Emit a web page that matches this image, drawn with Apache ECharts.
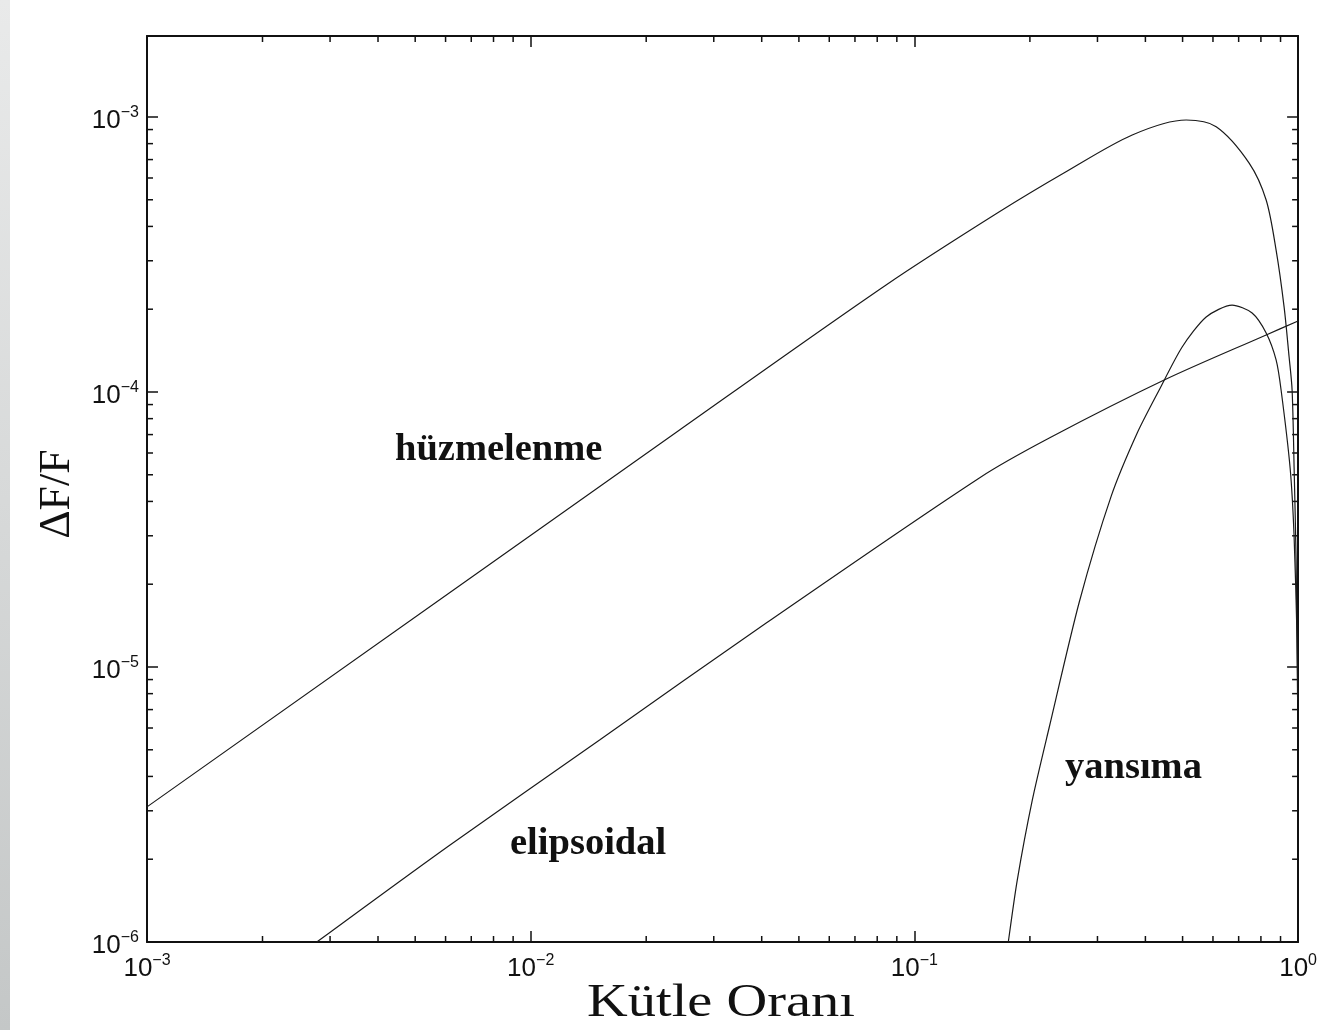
<!DOCTYPE html>
<html>
<head>
    <meta charset="utf-8">
    <title>Kütle Oranı - ΔF/F</title>
    <script type="text/javascript" src="https://cdn.jsdelivr.net/npm/echarts@6/dist/echarts.min.js"></script>
    <style>
        html, body { margin: 0; padding: 0; background: #fff; }
    </style>
</head>
<body>
<div id="main" style="width:1320px;height:1030px;"></div>

<script type="text/javascript">

    // eksen sinirlari ve ana tikler
    var xTicks = [1e-3, 1e-2, 1e-1, 1];
    var yTicks = [1e-6, 1e-5, 1e-4, 1e-3];
    var Y_MAX = 1.97e-3;
    var minorMult = [2, 3, 4, 5, 6, 7, 8, 9];

    // hüzmelenme
    var beamQ = [0.001, 0.02443, 0.08438, 0.1665, 0.2484, 0.3696, 0.5109, 0.6117, 0.7455, 0.8256, 0.8764, 0.9194, 0.9475, 0.9647, 0.9763, 0.9881, 0.9970];
    var beamV = [3.10e-6, 7.27e-5, 2.449e-4, 4.52e-4, 6.32e-4, 8.60e-4, 9.75e-4, 9.22e-4, 6.80e-4, 4.99e-4, 3.28e-4, 2.04e-4, 1.34e-4, 1.017e-4, 5.34e-5, 2.45e-5, 7.6e-6];

    // elipsoidal
    var ellQ = [0.00277, 0.00615, 0.01512, 0.0411, 0.1477, 0.2247, 0.4477, 0.8256, 1.0];
    var ellV = [1.0e-6, 2.25e-6, 5.43e-6, 1.445e-5, 4.87e-5, 6.80e-5, 1.105e-4, 1.612e-4, 1.812e-4];

    // yansıma
    var refQ = [0.1757, 0.1854, 0.2029, 0.2247, 0.2690, 0.3258, 0.3808, 0.4345, 0.4987, 0.5760, 0.6730, 0.7589, 0.8256, 0.8764, 0.9030, 0.9533, 0.9763, 0.9940, 0.9982];
    var refV = [1.0e-6, 1.68e-6, 3.28e-6, 6.05e-6, 1.723e-5, 4.18e-5, 7.09e-5, 1.017e-4, 1.458e-4, 1.874e-4, 2.07e-4, 1.938e-4, 1.639e-4, 1.308e-4, 1.017e-4, 5.29e-5, 2.99e-5, 1.254e-5, 7.6e-6];

    function pairs(a, b) {
        var out = [];
        for (var i = 0; i < a.length; i++) out.push([a[i], b[i]]);
        return out;
    }

    // ara tikler (2..9 x 10^n)
    var xMinor = [], yMinor = [];
    for (var i = 0; i < xTicks.length - 1; i++) {
        for (var k = 0; k < minorMult.length; k++) xMinor.push([xTicks[i] * minorMult[k], 1e-5]);
    }
    for (var i = 0; i < yTicks.length - 1; i++) {
        for (var k = 0; k < minorMult.length; k++) yMinor.push([1e-2, yTicks[i] * minorMult[k]]);
    }

    var tickFont = '"Liberation Sans", Arial, Helvetica, sans-serif';
    var serif = '"Liberation Serif", "Times New Roman", serif';

    function powLabel(v) {
        var lg = Math.log10(v);
        var e = Math.round(lg);
        if (Math.abs(lg - e) > 1e-6) return '';
        var s = e < 0 ? '\u2212' + (-e) : '' + e;
        return '{b|10}{s|' + s + '}';
    }
    var richPow = {
        b: { fontSize: 26, fontFamily: tickFont, color: '#111', lineHeight: 24, padding: [8, 0, 0, 0] },
        s: { fontSize: 16, fontFamily: tickFont, color: '#111', lineHeight: 16, verticalAlign: 'top' }
    };

    var frame = { show: true, lineStyle: { color: '#111', width: 2 } };
    var majorTick = { show: true, inside: true, length: 11, lineStyle: { color: '#111', width: 1.5 } };

    var myChart = echarts.init(document.getElementById('main'));

    function minorTicks(params, api) {
        var isX = params.seriesName === 'xminor';
        var st = { stroke: '#111', lineWidth: 1.5 };
        if (isX) {
            var v = api.value(0);
            var b = api.coord([v, yTicks[0]]);
            var t = api.coord([v, Y_MAX]);
            return { type: 'group', children: [
                { type: 'line', shape: { x1: b[0], y1: b[1], x2: b[0], y2: b[1] - 6 }, style: st },
                { type: 'line', shape: { x1: t[0], y1: t[1], x2: t[0], y2: t[1] + 6 }, style: st }
            ] };
        }
        var w = api.value(1);
        var l = api.coord([xTicks[0], w]);
        var r = api.coord([xTicks[xTicks.length - 1], w]);
        return { type: 'group', children: [
            { type: 'line', shape: { x1: l[0], y1: l[1], x2: l[0] + 6, y2: l[1] }, style: st },
            { type: 'line', shape: { x1: r[0], y1: r[1], x2: r[0] - 6, y2: r[1] }, style: st }
        ] };
    }

    var lineStyle = { color: '#1a1a1a', width: 1.2 };

    option = {
        animation: false,
        backgroundColor: '#fff',
        grid: { left: 147, top: 36, right: 21, bottom: 88, containLabel: false },
        xAxis: [
            {
                type: 'log', logBase: 10, min: xTicks[0], max: xTicks[xTicks.length - 1],
                position: 'bottom',
                axisLine: frame, axisTick: majorTick, splitLine: { show: false },
                axisLabel: { margin: 11, formatter: powLabel, rich: richPow }
            },
            {
                type: 'log', logBase: 10, min: xTicks[0], max: xTicks[xTicks.length - 1],
                position: 'top',
                axisLine: frame, axisTick: majorTick, splitLine: { show: false },
                axisLabel: { show: false }
            }
        ],
        yAxis: [
            {
                type: 'log', logBase: 10, min: yTicks[0], max: Y_MAX,
                position: 'left',
                axisLine: frame, axisTick: majorTick, splitLine: { show: false },
                axisLabel: { margin: 8, formatter: powLabel, rich: richPow, showMaxLabel: false }
            },
            {
                type: 'log', logBase: 10, min: yTicks[0], max: Y_MAX,
                position: 'right',
                axisLine: frame, axisTick: majorTick, splitLine: { show: false },
                axisLabel: { show: false }
            }
        ],
        series: [
            { name: 'hüzmelenme', type: 'line', data: pairs(beamQ, beamV), showSymbol: false, smooth: 0.3, lineStyle: lineStyle, silent: true },
            { name: 'elipsoidal', type: 'line', data: pairs(ellQ, ellV), showSymbol: false, smooth: 0.3, lineStyle: lineStyle, silent: true },
            { name: 'yansıma', type: 'line', data: pairs(refQ, refV), showSymbol: false, smooth: 0.25, lineStyle: lineStyle, silent: true },
            { name: 'xminor', type: 'custom', data: xMinor, renderItem: minorTicks, silent: true },
            { name: 'yminor', type: 'custom', data: yMinor, renderItem: minorTicks, silent: true }
        ],
        graphic: [
            {
                type: 'rect', left: 0, top: 0, shape: { width: 10, height: 1030 },
                style: { fill: new echarts.graphic.LinearGradient(0, 0, 0, 1, [
                    { offset: 0, color: '#e9eaea' }, { offset: 1, color: '#c4c7c7' }
                ]) }
            },
            { type: 'text', left: 395, top: 431, style: { text: 'hüzmelenme', font: 'bold 38.5px ' + serif, fill: '#111' } },
            { type: 'text', left: 510, top: 825, style: { text: 'elipsoidal', font: 'bold 38.5px ' + serif, fill: '#111' } },
            { type: 'text', left: 1065, top: 749, style: { text: 'yansıma', font: 'bold 38.5px ' + serif, fill: '#111' } },
            { type: 'text', x: 57, y: 494, rotation: Math.PI / 2,
              style: { text: 'ΔF/F', font: '44px ' + serif, fill: '#111', align: 'center', verticalAlign: 'middle' } },
            { type: 'text', x: 721, y: 1004, scaleX: 1.2,
              style: { text: 'Kütle Oranı', font: '47px ' + serif, fill: '#111', align: 'center', verticalAlign: 'middle' } }
        ]
    };
    myChart.setOption(option);

</script>
</body>
</html>
